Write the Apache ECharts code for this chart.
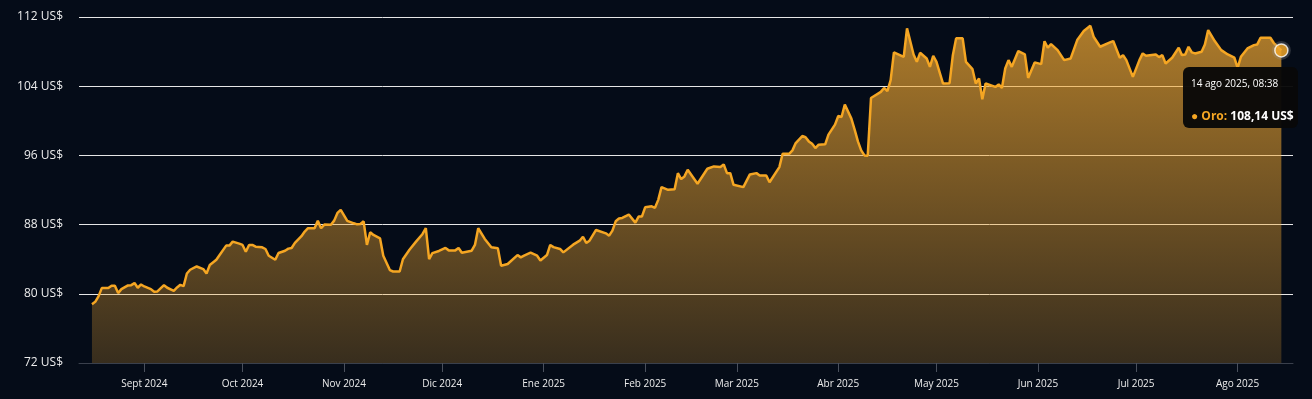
<!DOCTYPE html>
<html>
<head>
<meta charset="utf-8">
<script src="https://cdn.jsdelivr.net/npm/echarts@6/dist/echarts.min.js"></script>
<style>
	html, body { margin: 0; padding: 0; background: #050c18; }
	#chart { width: 1312px; height: 399px; }
</style>
</head>
<body>
<div id="chart"></div>
<script>
const dates = [
	'2024-08-16', '2024-08-17', '2024-08-18', '2024-08-19', '2024-08-21', '2024-08-22', '2024-08-23', '2024-08-24',
	'2024-08-25', '2024-08-27', '2024-08-28', '2024-08-29', '2024-08-30', '2024-08-31', '2024-09-01', '2024-09-03',
	'2024-09-04', '2024-09-05', '2024-09-07', '2024-09-08', '2024-09-10', '2024-09-11', '2024-09-12', '2024-09-13',
	'2024-09-14', '2024-09-15', '2024-09-17', '2024-09-19', '2024-09-20', '2024-09-21', '2024-09-23', '2024-09-24',
	'2024-09-26', '2024-09-27', '2024-09-28', '2024-09-30', '2024-10-01', '2024-10-02', '2024-10-03', '2024-10-04',
	'2024-10-05', '2024-10-07', '2024-10-08', '2024-10-09', '2024-10-11', '2024-10-12', '2024-10-14', '2024-10-15',
	'2024-10-16', '2024-10-17', '2024-10-19', '2024-10-20', '2024-10-21', '2024-10-23', '2024-10-24', '2024-10-25',
	'2024-10-26', '2024-10-28', '2024-10-29', '2024-10-30', '2024-10-31', '2024-11-02', '2024-11-04', '2024-11-05',
	'2024-11-06', '2024-11-07', '2024-11-08', '2024-11-09', '2024-11-10', '2024-11-12', '2024-11-13', '2024-11-15',
	'2024-11-16', '2024-11-18', '2024-11-19', '2024-11-21', '2024-11-23', '2024-11-25', '2024-11-26', '2024-11-27',
	'2024-11-28', '2024-11-30', '2024-12-02', '2024-12-03', '2024-12-05', '2024-12-06', '2024-12-07', '2024-12-10',
	'2024-12-11', '2024-12-12', '2024-12-14', '2024-12-16', '2024-12-18', '2024-12-19', '2024-12-21', '2024-12-24',
	'2024-12-25', '2024-12-26', '2024-12-28', '2024-12-30', '2024-12-31', '2025-01-02', '2025-01-03', '2025-01-04',
	'2025-01-06', '2025-01-07', '2025-01-10', '2025-01-12', '2025-01-13', '2025-01-14', '2025-01-15', '2025-01-17',
	'2025-01-20', '2025-01-21', '2025-01-22', '2025-01-23', '2025-01-24', '2025-01-25', '2025-01-27', '2025-01-29',
	'2025-01-30', '2025-01-31', '2025-02-01', '2025-02-03', '2025-02-04', '2025-02-05', '2025-02-06', '2025-02-08',
	'2025-02-10', '2025-02-11', '2025-02-12', '2025-02-13', '2025-02-14', '2025-02-17', '2025-02-20', '2025-02-22',
	'2025-02-24', '2025-02-25', '2025-02-26', '2025-02-27', '2025-02-28', '2025-03-03', '2025-03-05', '2025-03-07',
	'2025-03-08', '2025-03-10', '2025-03-11', '2025-03-14', '2025-03-15', '2025-03-17', '2025-03-18', '2025-03-19',
	'2025-03-21', '2025-03-22', '2025-03-23', '2025-03-24', '2025-03-25', '2025-03-26', '2025-03-28', '2025-03-29',
	'2025-03-31', '2025-04-01', '2025-04-02', '2025-04-03', '2025-04-05', '2025-04-06', '2025-04-07', '2025-04-08',
	'2025-04-09', '2025-04-10', '2025-04-11', '2025-04-14', '2025-04-15', '2025-04-16', '2025-04-17', '2025-04-18',
	'2025-04-21', '2025-04-22', '2025-04-24', '2025-04-25', '2025-04-26', '2025-04-28', '2025-04-29', '2025-04-30',
	'2025-05-01', '2025-05-03', '2025-05-05', '2025-05-06', '2025-05-07', '2025-05-09', '2025-05-10', '2025-05-12',
	'2025-05-13', '2025-05-14', '2025-05-15', '2025-05-16', '2025-05-19', '2025-05-20', '2025-05-21', '2025-05-22',
	'2025-05-23', '2025-05-24', '2025-05-26', '2025-05-28', '2025-05-29', '2025-05-31', '2025-06-02', '2025-06-03',
	'2025-06-04', '2025-06-05', '2025-06-07', '2025-06-09', '2025-06-11', '2025-06-13', '2025-06-15', '2025-06-17',
	'2025-06-18', '2025-06-20', '2025-06-23', '2025-06-24', '2025-06-26', '2025-06-27', '2025-06-28', '2025-06-30',
	'2025-07-02', '2025-07-03', '2025-07-04', '2025-07-07', '2025-07-08', '2025-07-09', '2025-07-10', '2025-07-12',
	'2025-07-14', '2025-07-15', '2025-07-16', '2025-07-17', '2025-07-18', '2025-07-19', '2025-07-21', '2025-07-22',
	'2025-07-23', '2025-07-25', '2025-07-27', '2025-07-29', '2025-07-31', '2025-08-01', '2025-08-02', '2025-08-04',
	'2025-08-06', '2025-08-07', '2025-08-08', '2025-08-11', '2025-08-12', '2025-08-14 08:38'
];

const prices = [
	78.8, 79.07, 79.7, 80.66, 80.66, 80.93, 80.93, 80.08,
	80.54, 80.97, 81.0, 81.24, 80.7, 81.08, 80.85, 80.54,
	80.23, 80.27, 81.0, 80.7, 80.35, 80.73, 81.04, 80.89,
	82.35, 82.78, 83.16, 82.86, 82.35, 83.33, 83.94, 84.48,
	85.57, 85.57, 86.03, 85.8, 85.65, 84.87, 85.65, 85.65,
	85.45, 85.37, 85.18, 84.4, 83.94, 84.72, 84.98, 85.22,
	85.3, 85.88, 86.66, 87.2, 87.58, 87.58, 88.43, 87.58,
	88.0, 87.97, 88.46, 89.35, 89.7, 88.43, 88.15, 88.03,
	88.08, 88.38, 85.65, 87.11, 86.8, 86.41, 84.4, 82.74,
	82.58, 82.58, 84.0, 85.1, 86.03, 86.92, 87.58, 84.0,
	84.7, 84.95, 85.3, 85.02, 85.02, 85.3, 84.75, 84.98,
	85.65, 87.58, 86.34, 85.37, 85.26, 83.25, 83.44, 84.48,
	84.21, 84.4, 84.75, 84.4, 83.86, 84.48, 85.65, 85.4,
	85.18, 84.79, 85.68, 86.14, 86.6, 85.88, 86.14, 87.38,
	86.99, 86.72, 87.3, 88.38, 88.7, 88.77, 89.16, 88.23,
	88.93, 88.93, 90.0, 90.12, 89.94, 90.86, 92.33, 92.02,
	92.1, 93.95, 93.26, 93.57, 94.34, 92.72, 94.46, 94.73,
	94.65, 94.96, 93.95, 93.95, 92.6, 92.33, 93.8, 93.95,
	93.68, 93.68, 92.9, 94.65, 96.19, 96.19, 96.58, 97.43,
	98.24, 98.1, 97.62, 97.34, 96.85, 97.24, 97.28, 98.4,
	99.56, 100.56, 100.44, 101.88, 100.25, 98.98, 97.62, 96.58,
	96.0, 95.97, 102.64, 103.34, 103.8, 103.42, 104.7, 107.91,
	107.4, 110.69, 107.67, 106.82, 107.86, 107.21, 106.24, 107.52,
	106.82, 104.31, 104.35, 107.59, 109.53, 109.53, 106.82, 105.97,
	104.31, 104.89, 102.49, 104.31, 103.92, 104.2, 103.8, 106.05,
	107.01, 106.24, 108.06, 107.67, 104.96, 106.75, 106.55, 109.2,
	108.44, 108.87, 108.17, 107.01, 107.21, 109.33, 110.38, 110.99,
	109.72, 108.56, 109.06, 109.22, 107.29, 107.59, 107.01, 105.08,
	107.01, 107.79, 107.52, 107.67, 107.36, 107.59, 106.63, 107.29,
	108.44, 107.59, 107.67, 108.56, 107.91, 107.79, 107.98, 108.83,
	110.49, 109.22, 108.17, 107.67, 107.29, 106.12, 107.4, 108.37,
	108.75, 108.83, 109.6, 109.6, 109.02, 108.14
];

const tickDates = [
	'2024-09-01', '2024-10-01', '2024-11-01', '2024-12-01', '2025-01-01', '2025-02-01',
	'2025-03-01', '2025-04-01', '2025-05-01', '2025-06-01', '2025-07-01', '2025-08-01'
];
const tickLabels = [
	'Sept 2024', 'Oct 2024', 'Nov 2024', 'Dic 2024', 'Ene 2025', 'Feb 2025',
	'Mar 2025', 'Abr 2025', 'May 2025', 'Jun 2025', 'Jul 2025', 'Ago 2025'
];

const tipTitle = '14 ago 2025, 08:38';
const seriesName = 'Oro';

let chart = echarts.init(document.getElementById('chart'));
// fechas -> milisegundos, el eje x es numerico
let toTime = d => echarts.time.parse(d).getTime();
let tickValues = tickDates.map(toTime);
let lineData = dates.map((d, i) => [toTime(d), prices[i]]);
let last = lineData[lineData.length - 1];
const fontFamily = '"Open Sans", "Noto Sans", sans-serif';

let option = {
	backgroundColor: '#050c18',
	animation: false,
	textStyle: { fontFamily: fontFamily },
	grid: {
		left: 79,
		right: 19,
		top: 17,
		bottom: 36,
		containLabel: false
	},
	tooltip: {
		trigger: 'item',
		triggerOn: 'none',
		alwaysShowContent: true,
		transitionDuration: 0,
		position: [1183, 67],
		padding: 0,
		borderWidth: 0,
		backgroundColor: 'rgba(8,8,8,0.96)',
		extraCssText: 'border-radius:6px;box-shadow:none;width:115px;height:61px;',
		formatter: function () {
			return '<div style="font-family:' + fontFamily.replace(/"/g, "'") + ';padding:9px 0 0 8px;">' +
				'<div style="color:#fff;font-size:10px;line-height:14px;">' + tipTitle + '</div>' +
				'<div style="margin-top:18px;font-size:12px;line-height:16px;font-weight:bold;white-space:nowrap;">' +
				'<span style="color:#f5a623;">\u25CF ' + seriesName + ':</span> ' +
				'<span style="color:#fff;">' + last[1].toFixed(2).replace('.', ',') + ' US$</span></div></div>';
		}
	},
	xAxis: {
		type: 'value',
		min: toTime('2024-08-12 01:00'),
		max: toTime('2025-08-17 22:00'),
		axisLine: {
			show: true,
			lineStyle: { color: '#3a404c' }
		},
		axisTick: {
			show: true,
			length: 9,
			customValues: tickValues,
			lineStyle: { color: '#4a505c' }
		},
		axisLabel: {
			customValues: tickValues,
			color: '#ececec',
			fontSize: 10,
			margin: 16,
			formatter: function (value) {
				let i = tickValues.indexOf(value);
				return i >= 0 ? tickLabels[i] : '';
			}
		},
		splitLine: { show: false }
	},
	yAxis: {
		type: 'value',
		min: 72,
		max: 112,
		interval: 8,
		axisLine: { show: false },
		axisTick: { show: false },
		axisLabel: {
			color: '#ececec',
			fontSize: 12,
			margin: 16,
			formatter: '{value} US$'
		},
		splitLine: {
			show: true,
			lineStyle: {
				color: ['#3a404c', '#e6e6e6', '#e6e6e6', '#e6e6e6', '#e6e6e6', '#e6e6e6'],
				width: 1
			}
		}
	},
	series: [
		{
			name: seriesName,
			type: 'line',
			data: lineData,
			showSymbol: false,
			symbol: 'none',
			silent: true,
			lineStyle: { color: '#f5a623', width: 2.5 },
			areaStyle: {
				color: new echarts.graphic.LinearGradient(0, 0, 0, 1, [
					{ offset: 0, color: 'rgba(245,170,50,1)' },
					{ offset: 1, color: 'rgba(245,170,50,0.3)' }
				])
			}
		},
		{
			type: 'scatter',
			data: [last],
			symbolSize: 19,
			silent: true,
			itemStyle: { color: 'rgba(150,150,150,0.35)' },
			z: 3
		},
		{
			name: seriesName,
			type: 'scatter',
			data: [last],
			symbolSize: 13,
			emphasis: { disabled: true },
			itemStyle: {
				color: '#f5a623',
				borderColor: '#ffffff',
				borderWidth: 1.5
			},
			z: 4
		}
	]
};

chart.setOption(option);
chart.dispatchAction({ type: 'showTip', seriesIndex: 2, dataIndex: 0 });

window.onresize = function () {
	chart.resize();
};
</script>
</body>
</html>
